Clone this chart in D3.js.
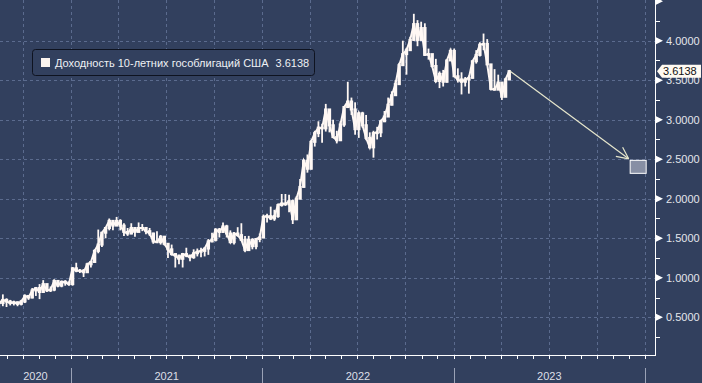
<!DOCTYPE html>
<html><head><meta charset="utf-8">
<script src="https://cdn.jsdelivr.net/npm/d3@7"></script>
<style>
html,body{margin:0;padding:0;background:#32405e;}
svg{display:block;font-family:"Liberation Sans",Arial,sans-serif;}
</style></head>
<body>
<script>
// ---- DATA (weekly, starting Monday 2020-08-17) ----
const startDate = "2020-08-17";
const closes = [0.68,0.72,0.70,0.68,0.69,0.67,0.70,0.77,0.75,0.84,0.87,0.82,0.92,0.84,0.85,0.96,0.90,0.95,0.94,0.92,
1.12,1.09,1.09,1.07,1.17,1.20,1.34,1.42,1.57,1.63,1.72,1.66,1.72,1.66,1.58,1.56,1.63,1.58,1.63,1.63,1.59,1.56,1.46,1.45,1.52,1.43,1.36,1.30,1.28,1.24,1.30,1.28,1.26,1.31,1.33,1.34,1.37,1.46,1.48,1.61,1.58,1.65,1.56,1.45,1.56,1.54,1.48,1.35,1.48,1.40,1.49,1.51,
1.77,1.78,1.75,1.78,1.92,1.94,1.93,1.97,1.74,2.00,2.15,2.48,2.38,2.72,2.83,2.90,2.89,3.13,2.93,2.78,2.74,2.94,3.16,3.23,3.13,2.88,3.08,2.93,2.77,2.65,2.83,2.84,2.98,3.04,3.19,3.31,3.45,3.69,3.83,3.88,4.01,4.21,4.01,4.16,3.82,3.83,3.68,3.49,3.58,3.48,3.75,3.87,
3.55,3.51,3.48,3.51,3.53,3.74,3.82,3.95,3.96,3.70,3.39,3.38,3.47,3.29,3.51,3.6138];
const highs = [0.72,0.79,0.74,0.72,0.71,0.70,0.72,0.79,0.78,0.87,0.88,0.92,0.97,0.91,0.89,0.98,0.97,0.96,0.97,0.95,
1.13,1.19,1.11,1.11,1.19,1.21,1.36,1.61,1.58,1.64,1.75,1.73,1.77,1.74,1.69,1.63,1.69,1.64,1.70,1.68,1.63,1.63,1.57,1.59,1.54,1.50,1.44,1.42,1.31,1.29,1.31,1.38,1.29,1.36,1.37,1.38,1.38,1.49,1.57,1.62,1.63,1.70,1.67,1.60,1.58,1.64,1.69,1.53,1.53,1.50,1.50,1.56,
1.80,1.81,1.90,1.86,1.94,2.06,2.06,2.05,1.99,2.03,2.25,2.50,2.56,2.74,2.86,2.98,2.95,3.20,3.08,3.00,2.86,2.98,3.17,3.48,3.28,3.22,3.10,3.10,3.06,2.84,2.86,2.91,3.00,3.11,3.28,3.36,3.50,3.72,4.00,3.91,4.05,4.34,4.26,4.24,4.22,3.90,3.83,3.77,3.61,3.63,3.76,3.90,
3.90,3.65,3.60,3.54,3.56,3.74,3.88,3.98,4.09,4.02,3.66,3.64,3.57,3.44,3.53,3.63];
const lows = [0.62,0.64,0.63,0.65,0.65,0.64,0.65,0.68,0.72,0.74,0.77,0.73,0.82,0.82,0.82,0.83,0.88,0.88,0.90,0.90,
0.90,1.07,1.06,1.01,1.06,1.13,1.19,1.31,1.39,1.50,1.60,1.60,1.66,1.60,1.53,1.53,1.55,1.52,1.58,1.59,1.55,1.53,1.43,1.44,1.42,1.41,1.25,1.28,1.13,1.17,1.13,1.26,1.21,1.24,1.27,1.26,1.27,1.29,1.45,1.46,1.51,1.57,1.51,1.44,1.42,1.52,1.47,1.33,1.35,1.36,1.36,1.45,
1.50,1.70,1.73,1.72,1.76,1.90,1.91,1.83,1.68,1.73,2.00,2.14,2.33,2.37,2.66,2.78,2.71,2.85,2.84,2.78,2.70,2.73,2.91,3.18,3.06,2.81,2.77,2.90,2.74,2.64,2.52,2.75,2.78,2.97,3.04,3.18,3.30,3.45,3.68,3.57,3.88,4.00,3.93,4.00,3.81,3.76,3.66,3.47,3.40,3.42,3.47,3.76,
3.55,3.47,3.32,3.42,3.33,3.52,3.71,3.80,3.88,3.70,3.37,3.38,3.45,3.25,3.34,3.50];
const lastValue = 3.6138;
const forecastDate = "2023-12-18";
const forecastValue = 2.41;
const yTicks = [0.5,1.0,1.5,2.0,2.5,3.0,3.5,4.0,4.5];
const yMinorTicks = [0.25,0.75,1.25,1.75,2.25,2.75,3.25,3.75,4.25];
const years = ["2020","2021","2022","2023"];
const legendLabel = "Доходность 10-летних гособлигаций США";

// ---- LAYOUT ----
const W = 702, H = 383;
const plotL = 0, plotR = 655, plotT = 0, plotB = 355;
const bg = "#32405e", gridC = "#5b6b8e", lineC = "#fff8f4";

const svg = d3.select("body").append("svg").attr("width", W).attr("height", H);
svg.append("rect").attr("width", W).attr("height", H).attr("fill", bg);

const x = d3.scaleUtc().domain([new Date(Date.UTC(2021,0,1)), new Date(Date.UTC(2024,0,1))]).range([71, 645]);
const y = d3.scaleLinear().domain([0, 4]).range([356.8, 356.8 - 4*79.03]);

const start = new Date(startDate + "T00:00:00Z");
const data = closes.map((c, i) => ({d: d3.utcWeek.offset(start, i), c, h: highs[i], l: lows[i], o: i ? closes[i-1] : c}));

svg.append("clipPath").attr("id","pc").append("rect")
  .attr("x", plotL).attr("y", plotT).attr("width", plotR - plotL).attr("height", plotB - plotT);

// grid
const grid = svg.append("g");
const quarters = d3.utcMonth.every(3).range(new Date(Date.UTC(2020,6,1)), new Date(Date.UTC(2024,0,2)));
grid.selectAll("line.v").data(quarters.filter(q => x(q) > plotL && x(q) < plotR)).join("line")
  .attr("x1", d => Math.round(x(d)) + 0.5).attr("x2", d => Math.round(x(d)) + 0.5)
  .attr("y1", plotT).attr("y2", plotB)
  .attr("stroke", gridC).attr("stroke-dasharray", "3,3");
grid.selectAll("line.h").data(yTicks.filter(t => y(t) > plotT + 2)).join("line")
  .attr("x1", plotL).attr("x2", plotR)
  .attr("y1", d => Math.round(y(d)) + 0.5).attr("y2", d => Math.round(y(d)) + 0.5)
  .attr("stroke", gridC).attr("stroke-dasharray", "3,3");

// series (weekly bars)
const series = svg.append("g").attr("clip-path", "url(#pc)");
series.selectAll("line.w").data(data).join("line")
  .attr("x1", d => x(d.d)).attr("x2", d => x(d.d))
  .attr("y1", d => y(d.h)).attr("y2", d => y(d.l))
  .attr("stroke", lineC).attr("stroke-width", 1.8);
series.selectAll("rect.b").data(data).join("rect")
  .attr("x", d => x(d.d) - 1.7).attr("width", 3.4)
  .attr("y", d => y(Math.max(d.o, d.c)) - 1)
  .attr("height", d => Math.abs(y(d.o) - y(d.c)) + 2)
  .attr("fill", lineC);
series.append("path").datum(data)
  .attr("d", d3.line().x(d => x(d.d)).y(d => y(d.c)))
  .attr("fill", "none").attr("stroke", lineC).attr("stroke-width", 2);

// arrow to forecast
const last = data[data.length - 1];
const fd = new Date(forecastDate + "T00:00:00Z");
const ax1 = x(last.d) + 1, ay1 = y(lastValue);
const bx = x(fd) - 8, by = y(forecastValue) - 6.5;
const ax2 = bx - 1, ay2 = by - 1;
const arrowC = "#e6e6cc";
svg.append("line").attr("x1", ax1).attr("y1", ay1).attr("x2", ax2).attr("y2", ay2)
  .attr("stroke", arrowC).attr("stroke-width", 1.2);
const ang = Math.atan2(ay2 - ay1, ax2 - ax1);
[0.45, -0.45].forEach(a => {
  svg.append("line").attr("x1", ax2).attr("y1", ay2)
    .attr("x2", ax2 - 13 * Math.cos(ang + a)).attr("y2", ay2 - 13 * Math.sin(ang + a))
    .attr("stroke", arrowC).attr("stroke-width", 1.2);
});
svg.append("rect").attr("x", bx + 0.5).attr("y", by + 0.5).attr("width", 16).attr("height", 13)
  .attr("fill", "#878fa4").attr("stroke", "#ffffff").attr("stroke-width", 1);

// axes lines
svg.append("line").attr("x1", plotR + 0.5).attr("x2", plotR + 0.5).attr("y1", 0).attr("y2", plotB + 0.5)
  .attr("stroke", "#ffffff").attr("stroke-width", 1);
svg.append("line").attr("x1", 0).attr("x2", plotR + 1).attr("y1", plotB + 0.5).attr("y2", plotB + 0.5)
  .attr("stroke", "#ffffff").attr("stroke-width", 1);

// right axis ticks
const ya = svg.append("g");
ya.selectAll("path.t").data(yTicks).join("path")
  .attr("d", d => { const yy = y(d); return `M${plotR+1},${yy-3.5}L${plotR+8},${yy}L${plotR+1},${yy+3.5}Z`; })
  .attr("fill", "#ffffff");
ya.selectAll("line.m").data(yMinorTicks).join("line")
  .attr("x1", plotR + 1).attr("x2", plotR + 5)
  .attr("y1", d => Math.round(y(d)) + 0.5).attr("y2", d => Math.round(y(d)) + 0.5)
  .attr("stroke", "#ffffff");
ya.selectAll("text").data(yTicks.filter(t => y(t) > 8)).join("text")
  .attr("x", plotR + 11).attr("y", d => y(d) + 4)
  .attr("fill", "#e4e6ec").attr("font-size", 11)
  .text(d => d3.format(".4f")(d));

// last value tag
const ty = y(lastValue);
svg.append("path")
  .attr("d", `M${plotR+2},${ty}L${plotR+7},${ty-6.5}L${W-1},${ty-6.5}L${W-1},${ty+6.5}L${plotR+7},${ty+6.5}Z`)
  .attr("fill", "#fffaf2");
svg.append("text").attr("x", plotR + 8).attr("y", ty + 4)
  .attr("fill", "#111111").attr("font-size", 11).text(d3.format(".4f")(lastValue));

// bottom axis: monthly ticks
const months = d3.utcMonth.range(new Date(Date.UTC(2020,8,1)), new Date(Date.UTC(2024,0,2)));
svg.append("g").selectAll("line").data(months.filter(m => x(m) > 0 && x(m) < plotR)).join("line")
  .attr("x1", d => Math.round(x(d)) + 0.5).attr("x2", d => Math.round(x(d)) + 0.5)
  .attr("y1", plotB + 1).attr("y2", plotB + 4)
  .attr("stroke", "#ffffff");

// year separators and labels
const yearStarts = years.map(yv => new Date(Date.UTC(+yv, 0, 1)));
const sepC = "#9aa2b6";
svg.append("g").selectAll("line").data(yearStarts.slice(1).concat([new Date(Date.UTC(2024,0,1))])).join("line")
  .attr("x1", d => Math.round(x(d)) + 0.5).attr("x2", d => Math.round(x(d)) + 0.5)
  .attr("y1", 368).attr("y2", H)
  .attr("stroke", sepC);
svg.append("g").selectAll("text").data(years).join("text")
  .attr("x", yv => {
    const a = Math.max(0, x(new Date(Date.UTC(+yv,0,1))));
    const b = x(new Date(Date.UTC(+yv + 1,0,1)));
    return (a + b) / 2;
  })
  .attr("y", 380).attr("text-anchor", "middle")
  .attr("fill", "#dcdfe6").attr("font-size", 11)
  .text(d => d);

// legend
const lg = svg.append("g");
lg.append("rect").attr("x", 32.5).attr("y", 49.5).attr("width", 282).attr("height", 26).attr("rx", 3)
  .attr("fill", bg).attr("stroke", "#0e1320").attr("stroke-width", 1);
lg.append("rect").attr("x", 41).attr("y", 58).attr("width", 9).attr("height", 9).attr("fill", "#fbf4ef");
const lt = lg.append("text").attr("x", 55).attr("y", 67).attr("fill", "#eef0f4").attr("font-size", 11);
lt.append("tspan").text(legendLabel);
lt.append("tspan").attr("dx", 7).text(d3.format(".4f")(lastValue));
</script>
</body></html>
